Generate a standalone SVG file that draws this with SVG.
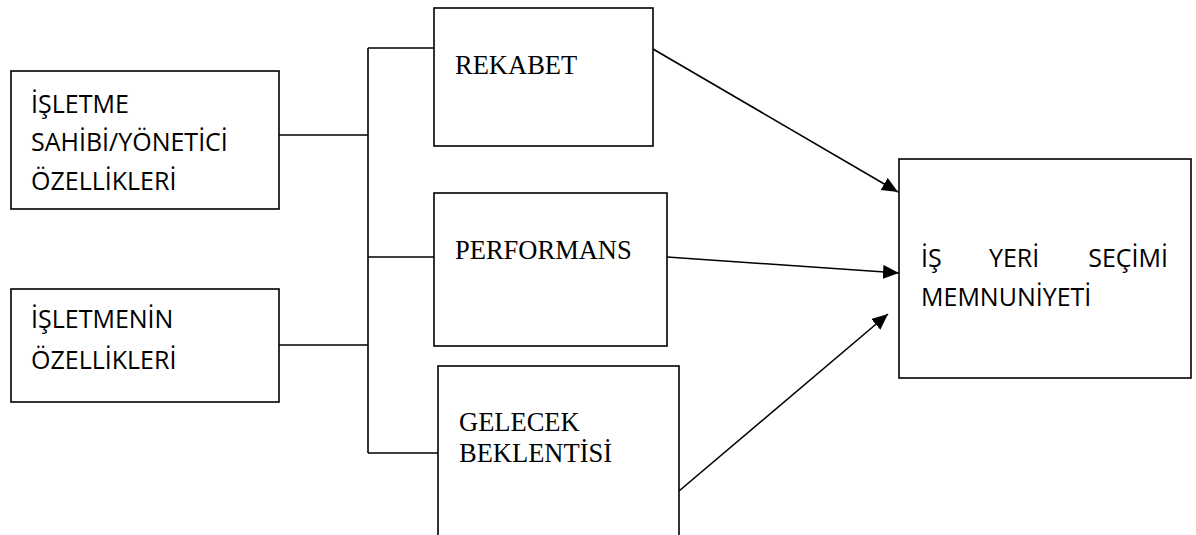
<svg xmlns="http://www.w3.org/2000/svg" width="1196" height="535" viewBox="0 0 1196 535">
<style>
.box{fill:#fff;stroke:#000;stroke-width:1.6}
.ln{stroke:#000;stroke-width:1.6;fill:none}
.sans{font-family:"Open Sans","Noto Sans",sans-serif;font-size:25px;fill:#000}
.serif{font-family:"Liberation Serif","Times New Roman",serif;font-size:26.5px;fill:#000}
</style>
<defs>
<marker id="ah" markerUnits="userSpaceOnUse" markerWidth="18" markerHeight="14" refX="16" refY="7" orient="auto">
<path d="M0,0 L16,7 L0,14 Z" fill="#000"/>
</marker>
</defs>
<g id="connectors">
<line class="ln" x1="279" y1="135" x2="368" y2="135"/>
<line class="ln" x1="279" y1="345" x2="368" y2="345"/>
<line class="ln" x1="368" y1="48" x2="368" y2="453"/>
<line class="ln" x1="368" y1="48" x2="439" y2="48"/>
<line class="ln" x1="368" y1="257" x2="434" y2="257"/>
<line class="ln" x1="368" y1="453" x2="438" y2="453"/>
<line class="ln" x1="653" y1="49" x2="898" y2="192" marker-end="url(#ah)"/>
<line class="ln" x1="667" y1="257" x2="899" y2="273" marker-end="url(#ah)"/>
<line class="ln" x1="679" y1="491" x2="888" y2="314" marker-end="url(#ah)"/>
</g>
<g id="isletme-sahibi">
<rect class="box" x="11" y="71" width="268" height="138"/>
<text class="sans" x="31" y="113">İŞLETME</text>
<text class="sans" x="31" y="151">SAHİBİ/YÖNETİCİ</text>
<text class="sans" x="31" y="190">ÖZELLİKLERİ</text>
</g>
<g id="isletmenin">
<rect class="box" x="11" y="289" width="268" height="113"/>
<text class="sans" x="31" y="328">İŞLETMENİN</text>
<text class="sans" x="31" y="369">ÖZELLİKLERİ</text>
</g>
<g id="rekabet">
<rect class="box" x="434" y="8" width="219" height="138"/>
<text class="serif" x="455" y="74">REKABET</text>
</g>
<g id="performans">
<rect class="box" x="434" y="193" width="233" height="153"/>
<text class="serif" x="455" y="259">PERFORMANS</text>
</g>
<g id="gelecek">
<rect class="box" x="438" y="366" width="241" height="180"/>
<text class="serif" x="459" y="431">GELECEK</text>
<text class="serif" x="459" y="462">BEKLENTİSİ</text>
</g>
<g id="memnuniyet">
<rect class="box" x="899" y="159" width="292" height="219"/>
<text class="sans" x="921" y="267">İŞ</text>
<text class="sans" x="989" y="267">YERİ</text>
<text class="sans" x="1168" y="267" text-anchor="end">SEÇİMİ</text>
<text class="sans" x="921" y="306">MEMNUNİYETİ</text>
</g>
</svg>
